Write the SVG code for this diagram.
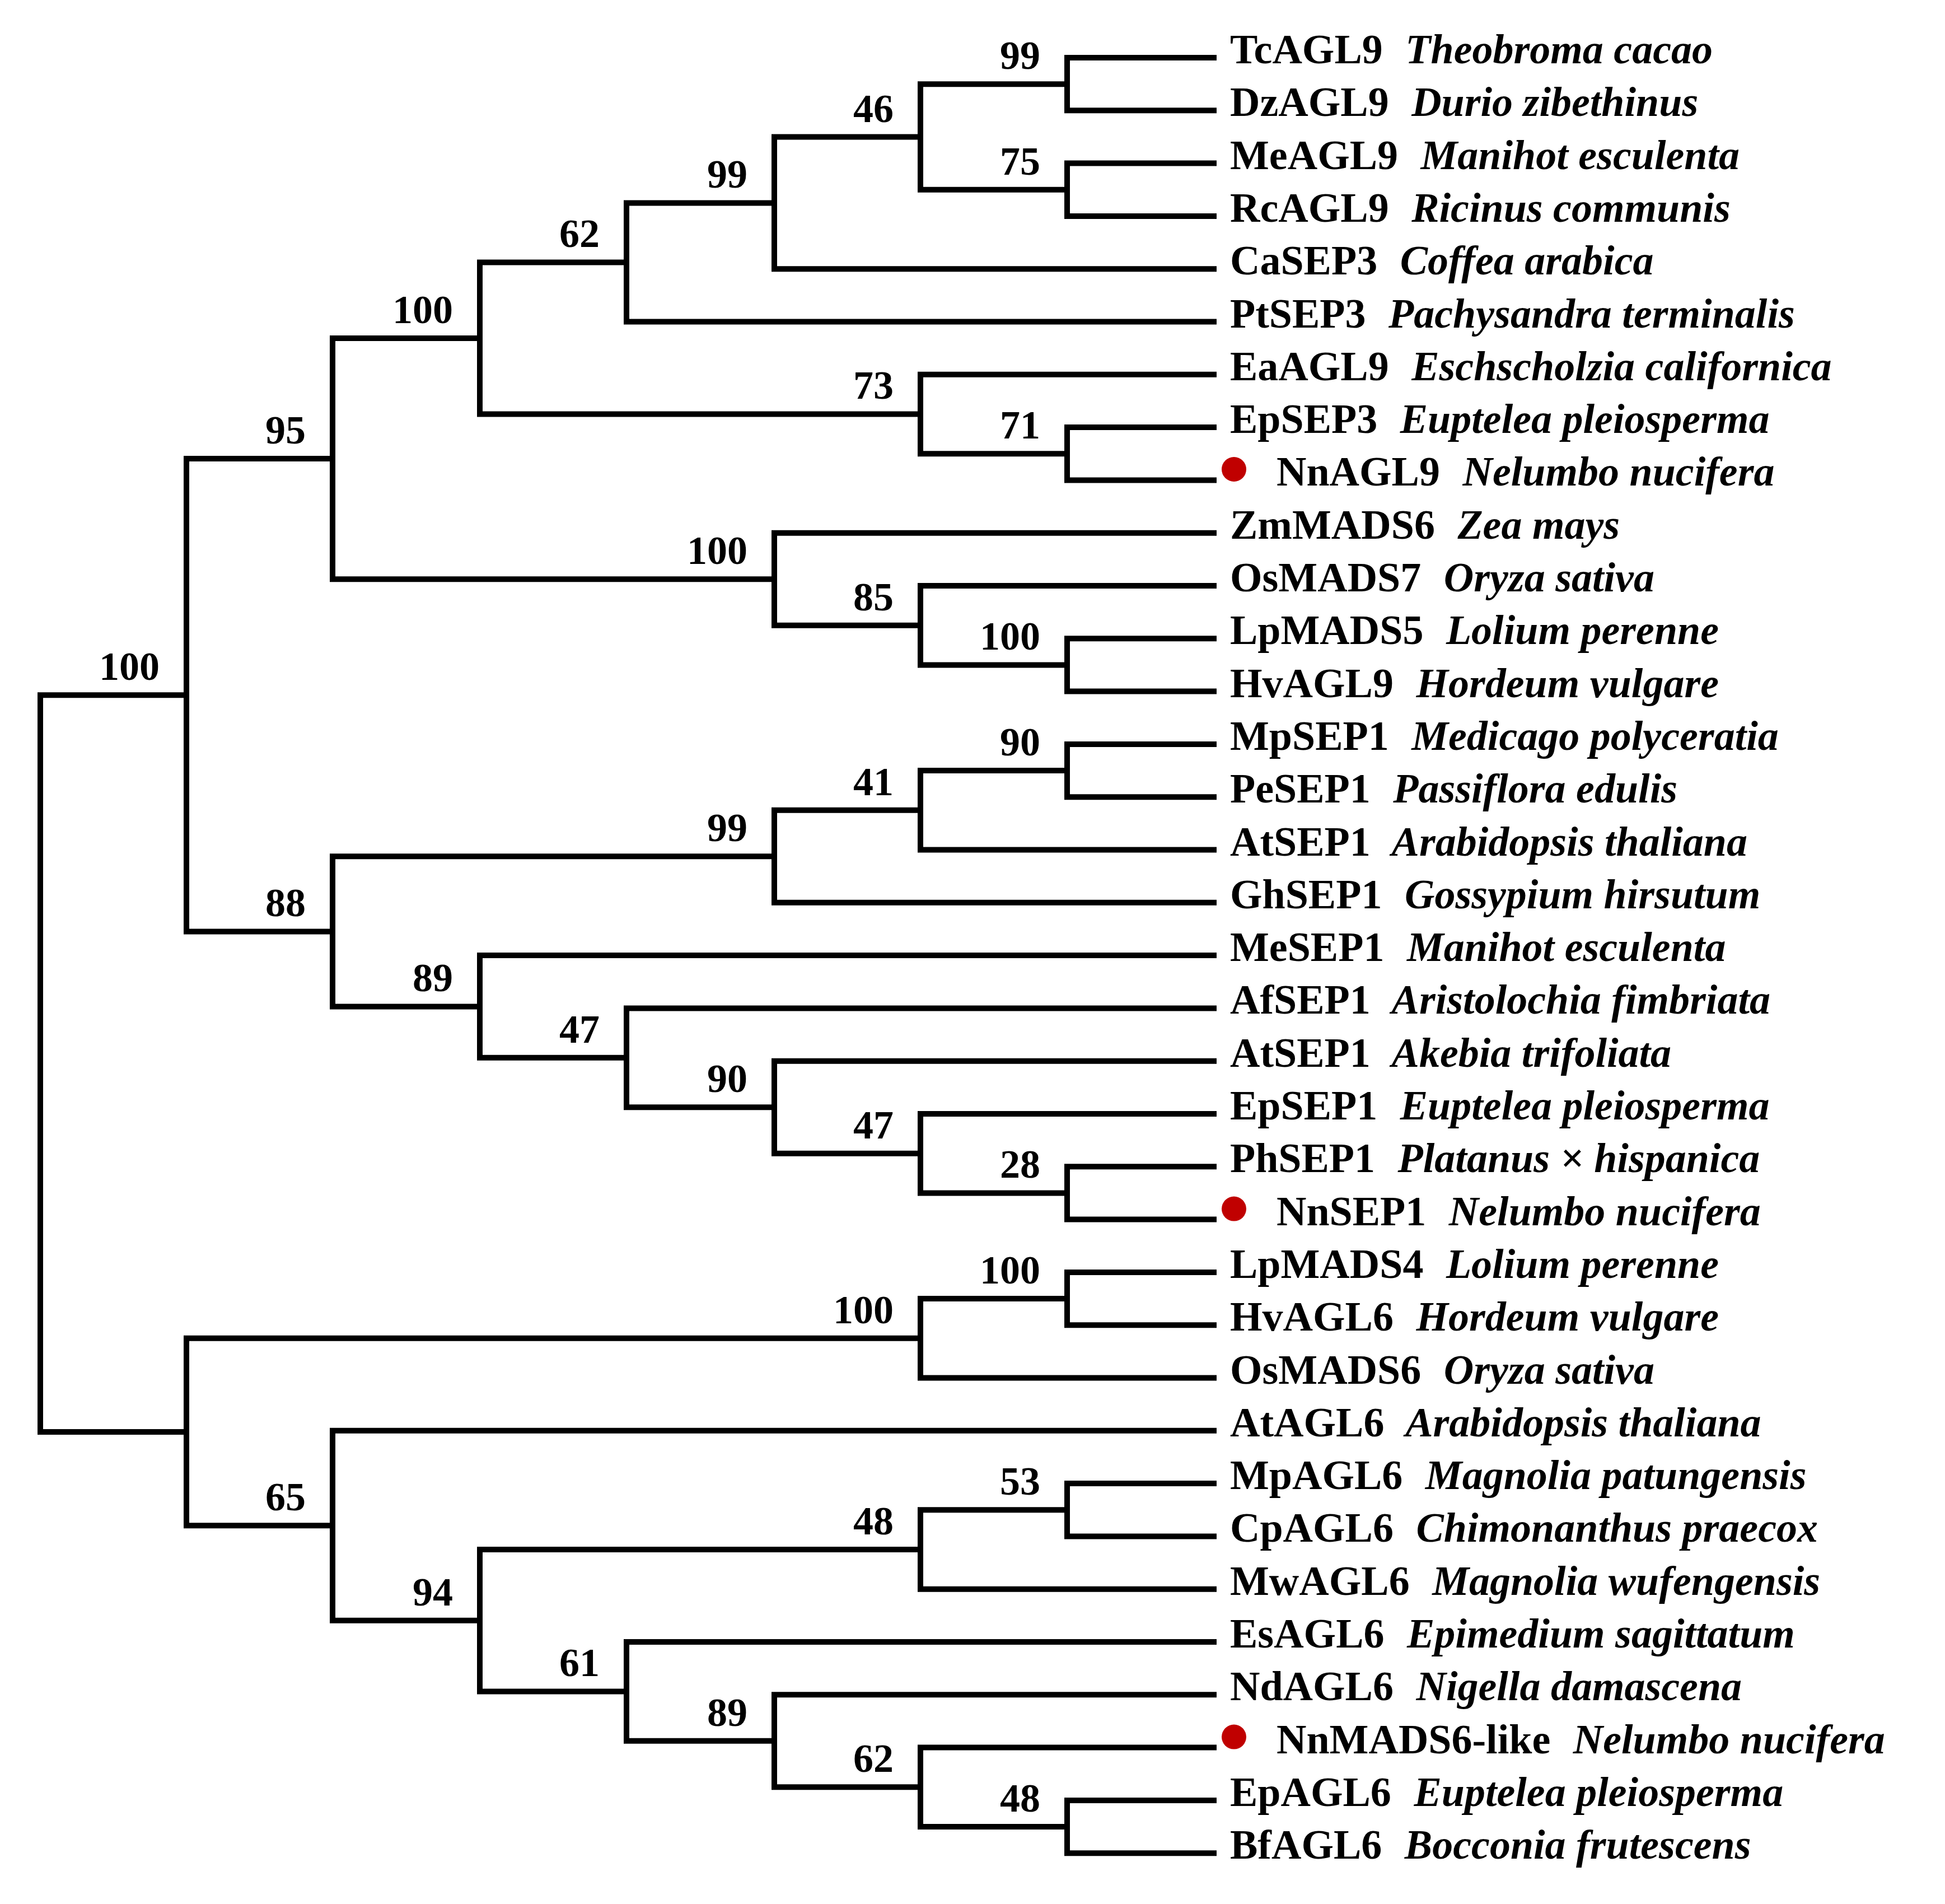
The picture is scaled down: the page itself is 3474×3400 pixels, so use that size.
<svg xmlns="http://www.w3.org/2000/svg" width="3474" height="3400" viewBox="0 0 3474 3400">
<style>
.br{fill:none;stroke:#000;stroke-width:10;stroke-linejoin:miter;stroke-linecap:butt}
.nm{font-family:"Liberation Serif","Times New Roman",serif;font-weight:bold;font-size:74px;fill:#000}
.sp{font-style:italic}
.bs{font-family:"Liberation Serif","Times New Roman",serif;font-weight:bold;font-size:72px;fill:#000;text-anchor:end}
.dot{fill:#c00000}
</style>
<rect width="3474" height="3400" fill="#fff"/>
<g id="connectors" class="br">
<path d="M2173 103 H1906 V197.3 H2173"/>
<path d="M2173 291.6 H1906 V385.9 H2173"/>
<path d="M1906 150.2 H1644 V338.8 H1906"/>
<path d="M1644 244.5 H1383 V480.2 H2173"/>
<path d="M1383 362.4 H1119 V574.5 H2173"/>
<path d="M2173 763.1 H1906 V857.4 H2173"/>
<path d="M2173 668.8 H1644 V810.3 H1906"/>
<path d="M1119 468.4 H857 V739.5 H1644"/>
<path d="M2173 1140.3 H1906 V1234.6 H2173"/>
<path d="M2173 1046 H1644 V1187.5 H1906"/>
<path d="M2173 951.7 H1383 V1116.7 H1644"/>
<path d="M857 604 H594 V1034.2 H1383"/>
<path d="M2173 1328.9 H1906 V1423.2 H2173"/>
<path d="M1906 1376 H1644 V1517.5 H2173"/>
<path d="M1644 1446.8 H1383 V1611.8 H2173"/>
<path d="M2173 2083.3 H1906 V2177.6 H2173"/>
<path d="M2173 1989 H1644 V2130.5 H1906"/>
<path d="M2173 1894.7 H1383 V2059.7 H1644"/>
<path d="M2173 1800.4 H1119 V1977.2 H1383"/>
<path d="M2173 1706.1 H857 V1888.8 H1119"/>
<path d="M1383 1529.3 H594 V1797.4 H857"/>
<path d="M594 819.1 H333 V1663.4 H594"/>
<path d="M2173 2271.9 H1906 V2366.2 H2173"/>
<path d="M1906 2319 H1644 V2460.5 H2173"/>
<path d="M2173 2649.1 H1906 V2743.4 H2173"/>
<path d="M1906 2696.2 H1644 V2837.7 H2173"/>
<path d="M2173 3214.9 H1906 V3309.2 H2173"/>
<path d="M2173 3120.6 H1644 V3262 H1906"/>
<path d="M2173 3026.3 H1383 V3191.3 H1644"/>
<path d="M2173 2932 H1119 V3108.8 H1383"/>
<path d="M1644 2767 H857 V3020.4 H1119"/>
<path d="M2173 2554.8 H594 V2893.7 H857"/>
<path d="M1644 2389.8 H333 V2724.3 H594"/>
<path d="M333 1241.2 H72 V2557 H333"/>
</g>
<g id="bootstrap" class="bs">
<text x="285" y="1214">100</text>
<text x="546" y="792">95</text>
<text x="809" y="577">100</text>
<text x="1071" y="441">62</text>
<text x="1335" y="335">99</text>
<text x="1596" y="218">46</text>
<text x="1858" y="123">99</text>
<text x="1858" y="312">75</text>
<text x="1596" y="712">73</text>
<text x="1858" y="783">71</text>
<text x="1335" y="1007">100</text>
<text x="1596" y="1090">85</text>
<text x="1858" y="1160">100</text>
<text x="546" y="1636">88</text>
<text x="1335" y="1502">99</text>
<text x="1596" y="1420">41</text>
<text x="1858" y="1349">90</text>
<text x="809" y="1770">89</text>
<text x="1071" y="1862">47</text>
<text x="1335" y="1950">90</text>
<text x="1596" y="2033">47</text>
<text x="1858" y="2103">28</text>
<text x="1596" y="2363">100</text>
<text x="1858" y="2292">100</text>
<text x="546" y="2697">65</text>
<text x="809" y="2867">94</text>
<text x="1596" y="2740">48</text>
<text x="1858" y="2669">53</text>
<text x="1071" y="2993">61</text>
<text x="1335" y="3082">89</text>
<text x="1596" y="3164">62</text>
<text x="1858" y="3235">48</text>
</g>
<g id="leaf-TcAGL9"><text class="nm" x="2197" y="113">TcAGL9<tspan class="sp" dx="22"> Theobroma cacao</tspan></text></g>
<g id="leaf-DzAGL9"><text class="nm" x="2197" y="207.3">DzAGL9<tspan class="sp" dx="22"> Durio zibethinus</tspan></text></g>
<g id="leaf-MeAGL9"><text class="nm" x="2197" y="301.6">MeAGL9<tspan class="sp" dx="22"> Manihot esculenta</tspan></text></g>
<g id="leaf-RcAGL9"><text class="nm" x="2197" y="395.9">RcAGL9<tspan class="sp" dx="22"> Ricinus communis</tspan></text></g>
<g id="leaf-CaSEP3"><text class="nm" x="2197" y="490.2">CaSEP3<tspan class="sp" dx="22"> Coffea arabica</tspan></text></g>
<g id="leaf-PtSEP3"><text class="nm" x="2197" y="584.5">PtSEP3<tspan class="sp" dx="22"> Pachysandra terminalis</tspan></text></g>
<g id="leaf-EaAGL9"><text class="nm" x="2197" y="678.8">EaAGL9<tspan class="sp" dx="22"> Eschscholzia californica</tspan></text></g>
<g id="leaf-EpSEP3"><text class="nm" x="2197" y="773.1">EpSEP3<tspan class="sp" dx="22"> Euptelea pleiosperma</tspan></text></g>
<g id="leaf-NnAGL9"><circle class="dot" cx="2204" cy="838" r="22"/><text class="nm" x="2280" y="867.4">NnAGL9<tspan class="sp" dx="22"> Nelumbo nucifera</tspan></text></g>
<g id="leaf-ZmMADS6"><text class="nm" x="2197" y="961.7">ZmMADS6<tspan class="sp" dx="22"> Zea mays</tspan></text></g>
<g id="leaf-OsMADS7"><text class="nm" x="2197" y="1056">OsMADS7<tspan class="sp" dx="22"> Oryza sativa</tspan></text></g>
<g id="leaf-LpMADS5"><text class="nm" x="2197" y="1150.3">LpMADS5<tspan class="sp" dx="22"> Lolium perenne</tspan></text></g>
<g id="leaf-HvAGL9"><text class="nm" x="2197" y="1244.6">HvAGL9<tspan class="sp" dx="22"> Hordeum vulgare</tspan></text></g>
<g id="leaf-MpSEP1"><text class="nm" x="2197" y="1338.9">MpSEP1<tspan class="sp" dx="22"> Medicago polyceratia</tspan></text></g>
<g id="leaf-PeSEP1"><text class="nm" x="2197" y="1433.2">PeSEP1<tspan class="sp" dx="22"> Passiflora edulis</tspan></text></g>
<g id="leaf-AtSEP1a"><text class="nm" x="2197" y="1527.5">AtSEP1<tspan class="sp" dx="22"> Arabidopsis thaliana</tspan></text></g>
<g id="leaf-GhSEP1"><text class="nm" x="2197" y="1621.8">GhSEP1<tspan class="sp" dx="22"> Gossypium hirsutum</tspan></text></g>
<g id="leaf-MeSEP1"><text class="nm" x="2197" y="1716.1">MeSEP1<tspan class="sp" dx="22"> Manihot esculenta</tspan></text></g>
<g id="leaf-AfSEP1"><text class="nm" x="2197" y="1810.4">AfSEP1<tspan class="sp" dx="22"> Aristolochia fimbriata</tspan></text></g>
<g id="leaf-AtSEP1b"><text class="nm" x="2197" y="1904.7">AtSEP1<tspan class="sp" dx="22"> Akebia trifoliata</tspan></text></g>
<g id="leaf-EpSEP1"><text class="nm" x="2197" y="1999">EpSEP1<tspan class="sp" dx="22"> Euptelea pleiosperma</tspan></text></g>
<g id="leaf-PhSEP1"><text class="nm" x="2197" y="2093.3">PhSEP1<tspan class="sp" dx="22"> Platanus × hispanica</tspan></text></g>
<g id="leaf-NnSEP1"><circle class="dot" cx="2204" cy="2158.6" r="22"/><text class="nm" x="2280" y="2187.6">NnSEP1<tspan class="sp" dx="22"> Nelumbo nucifera</tspan></text></g>
<g id="leaf-LpMADS4"><text class="nm" x="2197" y="2281.9">LpMADS4<tspan class="sp" dx="22"> Lolium perenne</tspan></text></g>
<g id="leaf-HvAGL6"><text class="nm" x="2197" y="2376.2">HvAGL6<tspan class="sp" dx="22"> Hordeum vulgare</tspan></text></g>
<g id="leaf-OsMADS6"><text class="nm" x="2197" y="2470.5">OsMADS6<tspan class="sp" dx="22"> Oryza sativa</tspan></text></g>
<g id="leaf-AtAGL6"><text class="nm" x="2197" y="2564.8">AtAGL6<tspan class="sp" dx="22"> Arabidopsis thaliana</tspan></text></g>
<g id="leaf-MpAGL6"><text class="nm" x="2197" y="2659.1">MpAGL6<tspan class="sp" dx="22"> Magnolia patungensis</tspan></text></g>
<g id="leaf-CpAGL6"><text class="nm" x="2197" y="2753.4">CpAGL6<tspan class="sp" dx="22"> Chimonanthus praecox</tspan></text></g>
<g id="leaf-MwAGL6"><text class="nm" x="2197" y="2847.7">MwAGL6<tspan class="sp" dx="22"> Magnolia wufengensis</tspan></text></g>
<g id="leaf-EsAGL6"><text class="nm" x="2197" y="2942">EsAGL6<tspan class="sp" dx="22"> Epimedium sagittatum</tspan></text></g>
<g id="leaf-NdAGL6"><text class="nm" x="2197" y="3036.3">NdAGL6<tspan class="sp" dx="22"> Nigella damascena</tspan></text></g>
<g id="leaf-NnMADS6-like"><circle class="dot" cx="2204" cy="3101.6" r="22"/><text class="nm" x="2280" y="3130.6">NnMADS6-like<tspan class="sp" dx="22"> Nelumbo nucifera</tspan></text></g>
<g id="leaf-EpAGL6"><text class="nm" x="2197" y="3224.9">EpAGL6<tspan class="sp" dx="22"> Euptelea pleiosperma</tspan></text></g>
<g id="leaf-BfAGL6"><text class="nm" x="2197" y="3319.2">BfAGL6<tspan class="sp" dx="22"> Bocconia frutescens</tspan></text></g>
</svg>
